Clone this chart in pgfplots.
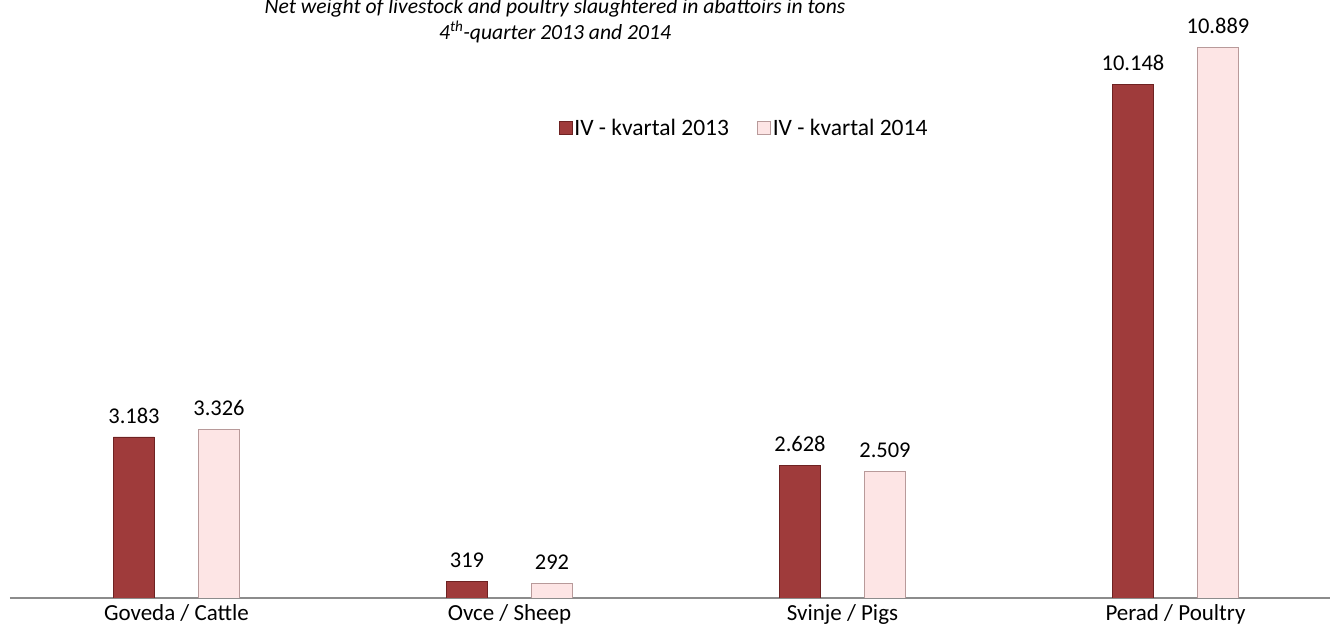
\documentclass[border=0pt]{standalone}
\usepackage{pgfplots}
\pgfplotsset{compat=1.18}
\usepackage{fontspec}
\setmainfont{Carlito}
\definecolor{darkbar}{HTML}{9F3B3B}
\definecolor{darkedge}{HTML}{6E2222}
\definecolor{lightbar}{HTML}{FDE5E5}
\definecolor{lightedge}{HTML}{B89A9A}
\definecolor{axgray}{HTML}{8C8C8C}
\begin{document}
\begin{tikzpicture}[x=1pt,y=1pt]
\clip (-10,-41) rectangle (1320,598);
\begin{axis}[
  at={(0,0)}, anchor=south west,
  scale only axis, width=1332pt, height=557pt,
  xmin=-0.5, xmax=3.5, ymin=0, ymax=11008,
  axis x line*=bottom, axis y line=none,
  x axis line style={axgray, line width=1.2pt, -},
  xtick={0,1,2,3}, xticklabels={Goveda / Cattle, Ovce / Sheep, Svinje / Pigs, Perad / Poultry},
  major tick length=0pt,
  xticklabel style={font=\fontsize{23}{26}\selectfont, yshift=-3pt},
  ybar, bar width=41pt,
  nodes near coords,
  /pgf/number format/.cd, 1000 sep={.}, assume math mode=true,
  /pgfplots/.cd,
  every node near coord/.append style={font=\fontsize{22.5}{26}\selectfont, black, yshift=10pt},
  legend style={at={(734pt,470pt)}, anchor=center, draw=none, fill=none,
    legend columns=2, font=\fontsize{23.5}{26}\selectfont,
    /tikz/every even column/.append style={column sep=26pt}},
  legend image code/.code={\draw[#1] (0pt,-6.5pt) rectangle (13pt,6.5pt);},
]
\addplot[bar shift=-42.5pt, fill=darkbar, draw=darkedge, line width=0.8pt]
  coordinates {(0,3183) (1,319) (2,2628) (3,10148)};
\addplot[bar shift=42.5pt, fill=lightbar, draw=lightedge, line width=0.8pt]
  coordinates {(0,3326) (1,292) (2,2509) (3,10889)};
\legend{IV - kvartal 2013, IV - kvartal 2014}
\end{axis}
\node[font=\fontsize{21.6}{25}\selectfont\itshape] at (545,590) {Net weight of livestock and poultry slaughtered in abattoirs in tons};
\node[font=\fontsize{21.6}{25}\selectfont\itshape] at (545,566) {4\textsuperscript{th}-quarter 2013 and 2014};
\end{tikzpicture}
\end{document}
